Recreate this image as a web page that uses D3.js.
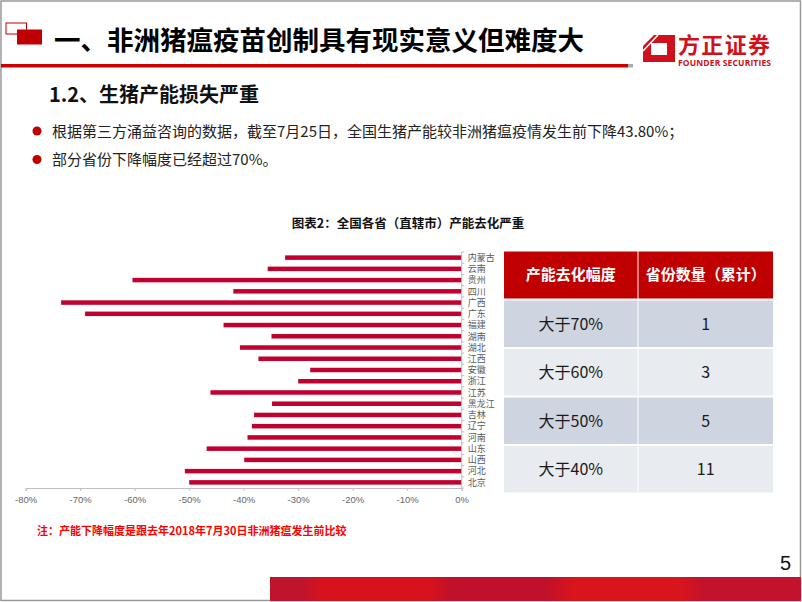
<!DOCTYPE html>
<html>
<head>
<meta charset="utf-8">
<title>全国各省产能去化</title>
<script src="https://cdn.jsdelivr.net/npm/d3@7"></script>
<style>
  body { margin: 0; background: #fff; }
  svg { display: block; font-family: "Noto Sans CJK SC", "Noto Sans", sans-serif; }
</style>
</head>
<body>
<div id="chart"></div>
<script>
// provinces, top to bottom as drawn
var provinces = ["内蒙古", "云南", "贵州", "四川", "广西", "广东", "福建", "湖南", "湖北", "江西", "安徽",
                 "浙江", "江苏", "黑龙江", "吉林", "辽宁", "河南", "山东", "山西", "河北", "北京"];
// capacity change vs. before the outbreak (%)
var declines = [-32.4, -35.6, -60.4, -41.9, -73.5, -69.1, -43.7, -34.9, -40.7, -37.3, -27.8,
                -30.0, -46.1, -34.8, -38.1, -38.5, -39.3, -46.8, -39.9, -50.8, -50.0];
var xTicks = [-80, -70, -60, -50, -40, -30, -20, -10, 0];

var tableHead = ["产能去化幅度", "省份数量（累计）"];
var tableRanges = ["大于70%", "大于60%", "大于50%", "大于40%"];
var tableCounts = [1, 3, 5, 11];

var bullets = ["根据第三方涌益咨询的数据，截至7月25日，全国生猪产能较非洲猪瘟疫情发生前下降43.80%；",
               "部分省份下降幅度已经超过70%。"];

var W = 802, H = 602;
var red = "#c00000", barRed = "#c0002f";

var svg = d3.select("#chart").append("svg")
	.attr("width", W)
	.attr("height", H);

/* page frame */
svg.append("rect")
	.attr("x", 1).attr("y", 1).attr("width", W - 2.5).attr("height", H - 2.5)
	.attr("fill", "none").attr("stroke", "#999").attr("stroke-width", 1.5);

/* header */
svg.append("rect").attr("x", 6).attr("y", 23).attr("width", 20.5).attr("height", 11)
	.attr("fill", "none").attr("stroke", red).attr("stroke-width", 1);
svg.append("rect").attr("x", 17).attr("y", 29.5).attr("width", 25).attr("height", 15)
	.attr("fill", red);
svg.append("text").attr("x", 54).attr("y", 49.5)
	.attr("font-size", 26.5).attr("font-weight", "bold").attr("fill", "#000")
	.text("一、非洲猪瘟疫苗创制具有现实意义但难度大");
svg.append("rect").attr("x", 1).attr("y", 64).attr("width", 627).attr("height", 3.5).attr("fill", "#cc0000");
svg.append("rect").attr("x", 628).attr("y", 64).attr("width", 5).attr("height", 3.5).attr("fill", "#aaa");

/* logo */
svg.append("path")
	.attr("d", "M654,35 L675,35 L675,62 L643,62 L643,46 Z M651,43 L667,43 L667,55 L651,55 Z")
	.attr("fill", "#d0101b").attr("fill-rule", "evenodd");
svg.append("line").attr("x1", 643).attr("y1", 51).attr("x2", 658).attr("y2", 35)
	.attr("stroke", "#fff").attr("stroke-width", 1.5);
svg.append("text").attr("x", 678).attr("y", 53)
	.attr("font-size", 22).attr("font-weight", "bold").attr("fill", "#d0101b")
	.attr("textLength", 92).text("方正证券");
svg.append("text").attr("x", 678).attr("y", 66)
	.attr("font-size", 8.5).attr("font-weight", "bold").attr("fill", "#d0101b")
	.attr("font-family", "'Open Sans', sans-serif")
	.attr("textLength", 93).text("FOUNDER SECURITIES");

/* subtitle and bullets */
svg.append("text").attr("x", 49).attr("y", 101.5)
	.attr("font-size", 20).attr("font-weight", "bold").attr("fill", "#111")
	.text("1.2、生猪产能损失严重");

var bl = svg.selectAll(".bullet").data(bullets).enter().append("g")
	.attr("class", "bullet")
	.attr("transform", function(d, i) { return "translate(0," + (131 + i * 28.5) + ")"; });
bl.append("circle").attr("cx", 37).attr("cy", 0).attr("r", 4.5).attr("fill", red);
bl.append("text").attr("x", 52).attr("y", 5.5)
	.attr("font-size", 15).attr("fill", "#222")
	.text(function(d) { return d; });

/* chart title */
svg.append("text").attr("x", 408).attr("y", 227.5).attr("text-anchor", "middle")
	.attr("font-size", 12.5).attr("font-weight", "bold").attr("fill", "#111")
	.text("图表2：全国各省（直辖市）产能去化严重");

/* bar chart */
var x = d3.scaleLinear().domain([-80, 0]).range([25.7, 461.7]);
var y = d3.scaleBand().domain(provinces).range([252, 488]).paddingInner(0.6).paddingOuter(0.3);

var xAxis = svg.append("g")
	.attr("transform", "translate(0,488)")
	.call(d3.axisBottom(x).tickValues(xTicks).tickSize(3).tickFormat(function(d) { return d + "%"; }));
xAxis.select(".domain").attr("stroke", "#bfbfbf");
xAxis.selectAll(".tick line").attr("stroke", "#bfbfbf");
xAxis.selectAll("text").attr("fill", "#666").attr("font-size", 9.5)
	.attr("font-family", "'Liberation Sans', Arial, sans-serif").attr("dy", "0.9em");

svg.selectAll(".bar").data(provinces).enter().append("rect")
	.attr("class", "bar")
	.attr("x", function(d, i) { return x(declines[i]); })
	.attr("y", function(d) { return y(d); })
	.attr("width", function(d, i) { return x(0) - x(declines[i]); })
	.attr("height", y.bandwidth())
	.attr("fill", barRed);

// category axis at 0, ticks on boundaries
var yAxisG = svg.append("g").attr("transform", "translate(" + x(0) + ",0)");
yAxisG.append("line").attr("y1", 252).attr("y2", 488).attr("stroke", "#bfbfbf");
yAxisG.selectAll(".ytick").data(d3.range(provinces.length + 1)).enter().append("line")
	.attr("x1", 0).attr("x2", 2.5)
	.attr("y1", function(i) { return 252 + i * (236 / provinces.length); })
	.attr("y2", function(i) { return 252 + i * (236 / provinces.length); })
	.attr("stroke", "#bfbfbf");
yAxisG.selectAll(".ylab").data(provinces).enter().append("text")
	.attr("x", 6)
	.attr("y", function(d) { return y(d) + y.bandwidth() / 2; })
	.attr("dy", "0.36em")
	.attr("font-size", 9).attr("fill", "#595959")
	.text(function(d) { return d; });

/* table */
var tx = 504, tw = [133.5, 134.5], headH = 47, rowH = 48.5, ty = 251.5;
var colX = [tx, tx + tw[0] + 1];
var head = svg.append("g");
head.selectAll("rect").data(tableHead).enter().append("rect")
	.attr("x", function(d, i) { return colX[i]; })
	.attr("y", ty).attr("width", function(d, i) { return tw[i]; }).attr("height", headH)
	.attr("fill", red);
head.selectAll("text").data(tableHead).enter().append("text")
	.attr("x", function(d, i) { return colX[i] + tw[i] / 2; })
	.attr("y", ty + headH / 2).attr("dy", "0.36em").attr("text-anchor", "middle")
	.attr("font-size", 15).attr("font-weight", "bold").attr("fill", "#fff")
	.text(function(d) { return d; });

var rows = svg.selectAll(".trow").data(tableRanges).enter().append("g")
	.attr("class", "trow")
	.attr("transform", function(d, i) { return "translate(0," + (ty + headH + 2 + i * rowH) + ")"; });
rows.each(function(d, i) {
	var g = d3.select(this);
	var fill = i % 2 === 0 ? "#cfd5e0" : "#e8ebf0";
	var vals = [d, tableCounts[i]];
	vals.forEach(function(v, c) {
		g.append("rect").attr("x", colX[c]).attr("y", 0)
			.attr("width", tw[c]).attr("height", rowH - 2).attr("fill", fill);
		g.append("text").attr("x", colX[c] + tw[c] / 2).attr("y", (rowH - 2) / 2)
			.attr("dy", "0.36em").attr("text-anchor", "middle")
			.attr("font-size", 16).attr("fill", "#1a1a1a")
			.text(v);
	});
});

/* footnote */
svg.append("text").attr("x", 37).attr("y", 535)
	.attr("font-size", 11).attr("font-weight", "bold").attr("fill", "#ff0000")
	.text("注：产能下降幅度是跟去年2018年7月30日非洲猪瘟发生前比较");

/* page number and bottom band */
svg.append("text").attr("x", 791).attr("y", 570).attr("text-anchor", "end")
	.attr("font-size", 20).attr("fill", "#111")
	.attr("font-family", "'Liberation Sans', Arial, sans-serif")
	.text("5");

var grad = svg.append("defs").append("linearGradient").attr("id", "band")
	.attr("x1", "0%").attr("x2", "100%");
[[0, "#c0142c"], [0.06, "#c0142c"], [0.1, "#d8121c"], [0.3, "#d8121c"], [0.34, "#c1102b"],
 [0.52, "#c1102b"], [0.57, "#d9141c"], [0.77, "#d9141c"], [0.82, "#c2122c"], [1, "#c2122c"]]
	.forEach(function(s) { grad.append("stop").attr("offset", s[0]).attr("stop-color", s[1]); });
svg.append("rect").attr("x", 270).attr("y", 577).attr("width", 531).attr("height", 24)
	.attr("fill", "url(#band)");
</script>
</body>
</html>
